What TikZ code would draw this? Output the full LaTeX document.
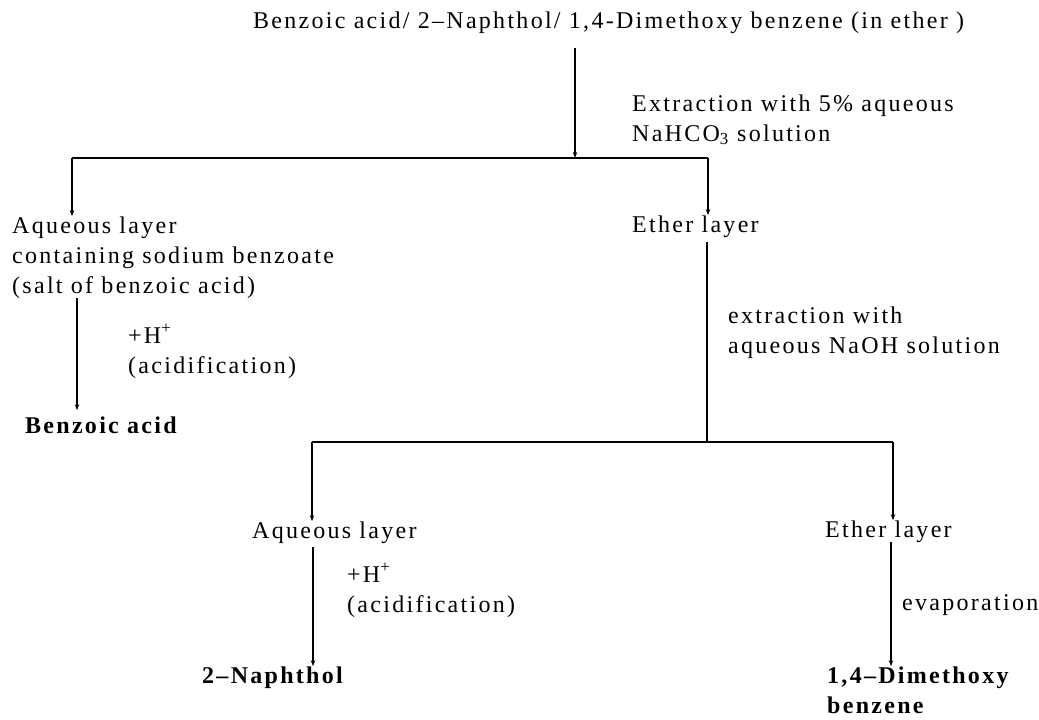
\documentclass[tikz,border=0pt]{standalone}
\usepackage{fontspec}
\setmainfont{Liberation Serif}[LetterSpace=9.5]
\usetikzlibrary{arrows.meta}

\begin{document}
\begin{tikzpicture}[x=1pt,y=-1pt,
    font=\fontsize{24}{30}\selectfont,
    txt/.style={anchor=base west,inner sep=0pt,align=left},
    prod/.style={txt,font=\fontsize{24}{30}\selectfont\bfseries},
    arr/.style={line width=2.2pt,-{Stealth[length=6pt,width=4.5pt]}},
    ln/.style={line width=2pt}]
  \useasboundingbox (0,0) rectangle (1039,720);

  % Starting mixture
  \node[txt] (mix) at (253,28) {Benzoic acid/ 2–Naphthol/ 1,4-Dimethoxy benzene (in ether )};
  \node[txt] (ext1) at (632,141) {Extraction with 5\% aqueous\\NaHCO\textsubscript{3} solution};

  % First separation
  \node[txt] (aq1) at (12,293) {Aqueous layer\\containing sodium benzoate\\(salt of benzoic acid)};
  \node[txt] (et1) at (632,232) {Ether layer};
  \node[txt] (acid1) at (128,373) {+H\textsuperscript{+}\\(acidification)};
  \node[prod] (benz) at (25,433) {Benzoic acid};
  \node[txt] (ext2) at (728,353) {extraction with\\aqueous NaOH solution};

  % Second separation
  \node[txt] (aq2) at (252,538) {Aqueous layer};
  \node[txt] (acid2) at (347,612) {+H\textsuperscript{+}\\(acidification)};
  \node[prod] (naph) at (202,683) {2–Naphthol};
  \node[txt] (et2) at (825,537) {Ether layer};
  \node[txt] (evap) at (902,610) {evaporation};
  \node[prod] (dmb) at (827,713) {1,4–Dimethoxy\\benzene};

  % Branch points
  \coordinate (split1) at (575,158);
  \coordinate (aq1top) at (72,158);
  \coordinate (et1top) at (708,158);
  \coordinate (split2) at (707,442);
  \coordinate (aq2top) at (312,442);
  \coordinate (et2top) at (893,442);

  % Connectors
  \draw[arr,shorten <=15pt] (mix.south -| split1) -- (split1);
  \draw[ln] (aq1top) -- (et1top);
  \draw[arr] (aq1top) -- (aq1.north -| aq1top);
  \draw[arr] (et1top) -- (et1.north -| et1top);
  \draw[arr,shorten >=6pt] (aq1.south -| 77,0) -- (benz.north -| 77,0);
  \draw[ln,shorten <=5pt] (et1.south -| split2) -- (split2);
  \draw[ln] (aq2top) -- (et2top);
  \draw[arr] (aq2top) -- (aq2.north -| aq2top);
  \draw[arr] (et2top) -- (et2.north -| et2top);
  \draw[arr,shorten <=4pt] (aq2.south -| 313,0) -- (naph.north -| 313,0);
  \draw[arr] (et2.south -| 891,0) -- (dmb.north -| 891,0);
\end{tikzpicture}
\end{document}
